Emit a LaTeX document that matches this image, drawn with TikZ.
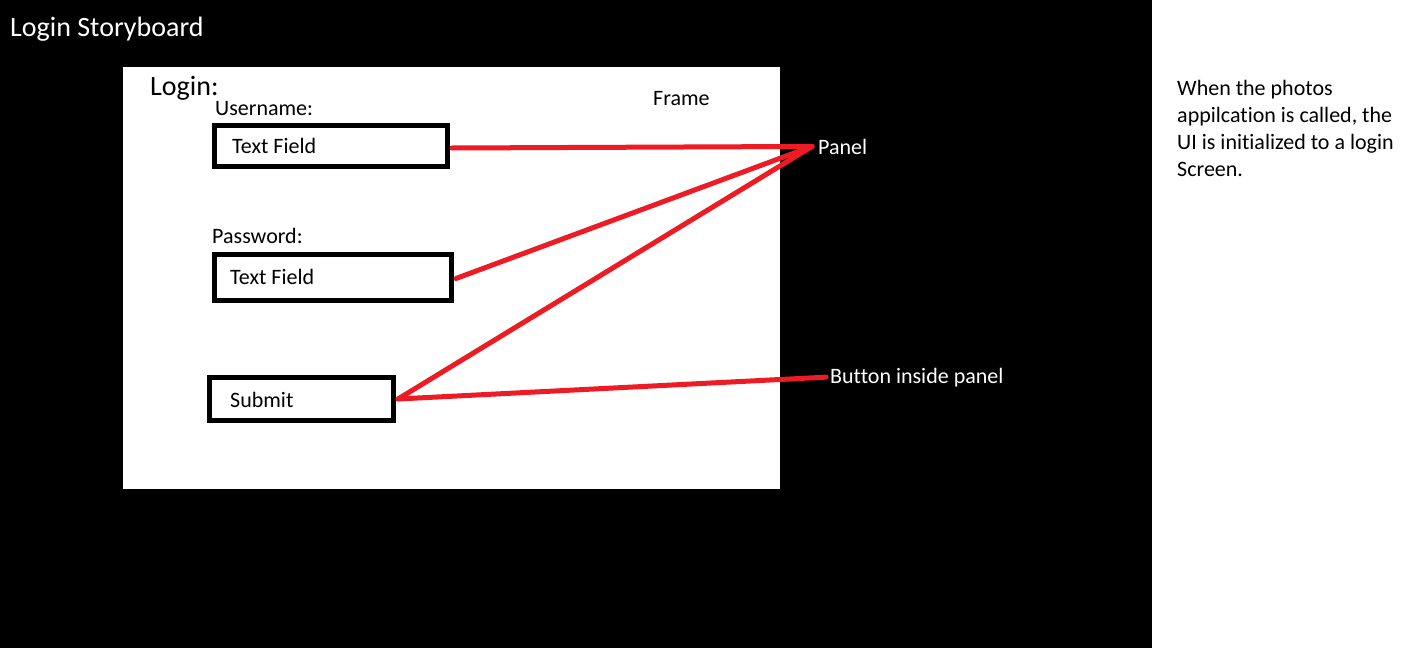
\documentclass[tikz,border=0pt]{standalone}
\usepackage{fontspec}
\setmainfont{Carlito}[Ligatures=NoCommon]
\definecolor{penred}{RGB}{237,28,36}
\begin{document}
\begin{tikzpicture}[x=1pt,y=-1pt,
  lbl/.style={anchor=base west,inner sep=0pt,font=\fontsize{22}{27}\selectfont},
  title/.style={anchor=base west,inner sep=0pt,font=\fontsize{28}{32}\selectfont},
  fieldbox/.style={draw=black,line width=5pt,fill=white,inner sep=0pt},
  link/.style={draw=penred,line width=5pt,line cap=round}]
\useasboundingbox (0,0) rectangle (1427,648);
\fill[black] (0,0) rectangle (1152,648);
\fill[white] (1152,0) rectangle (1427,648);
\node[fill=white,inner sep=0pt,minimum width=657pt,minimum height=422pt,anchor=north west] (frame) at (123,67) {};
\node[title,text=white] (storyboard) at (10,36) {Login Storyboard};
\node[title,text=black] (login) at (150,95) {Login:};
\node[lbl,text=black] (username) at (215,115) {Username:};
\node[lbl,text=black] (framelbl) at (653,105) {Frame};
\node[fieldbox,minimum width=233pt,minimum height=41pt] (tf1) at (331,146) {};
\node[lbl,text=black] (tf1txt) at (232,153) {Text Field};
\node[lbl,text=black] (password) at (212,243) {Password:};
\node[fieldbox,minimum width=237pt,minimum height=46pt] (tf2) at (333,277.5) {};
\node[lbl,text=black] (tf2txt) at (230,284) {Text Field};
\node[fieldbox,minimum width=184pt,minimum height=43pt] (sub) at (301.5,399) {};
\node[lbl,text=black] (subtxt) at (230,407) {Submit};
\node[lbl,text=white] (panel) at (818,154) {Panel};
\node[lbl,text=white] (button) at (830,383) {Button inside panel};
\coordinate (pp) at ([xshift=-6pt]panel.west);
\coordinate (bp) at ([xshift=-4pt]button.west);
\draw[link] ([xshift=2pt,yshift=-2pt]tf1.east) -- (pp);
\draw[link] ([xshift=2pt,yshift=-1pt]tf2.east) -- (pp);
\draw[link] ([xshift=2pt]sub.east) -- (pp);
\draw[link] ([xshift=2pt]sub.east) -- (bp);
\node[lbl,text=black,align=left,anchor=north west] (note) at (1177,80) {When the photos\\appilcation is called, the\\UI is initialized to a login\\Screen.};
\end{tikzpicture}
\end{document}
